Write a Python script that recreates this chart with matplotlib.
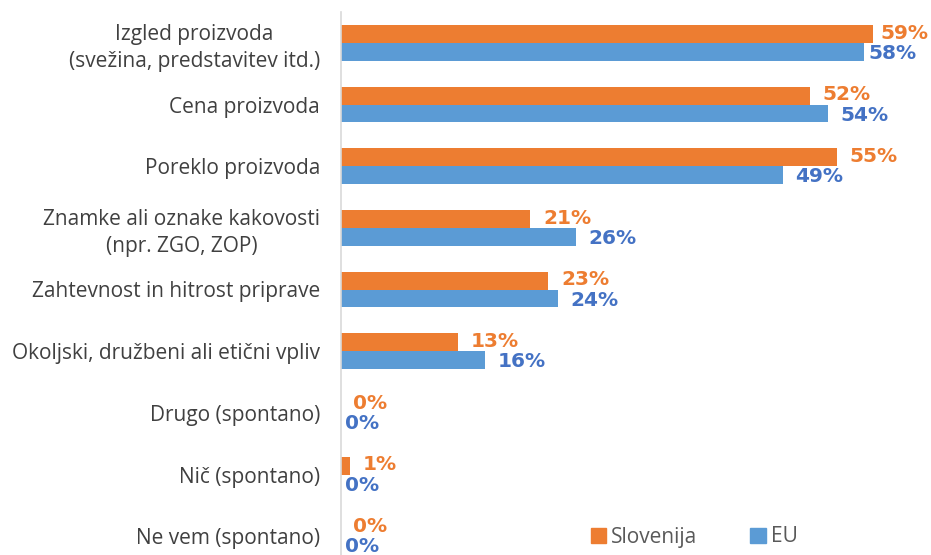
import matplotlib
matplotlib.use("Agg")
import matplotlib.pyplot as plt
import numpy as np
from matplotlib.patches import Patch

categories = [
    "Izgled proizvoda\n(svežina, predstavitev itd.)",
    "Cena proizvoda",
    "Poreklo proizvoda",
    "Znamke ali oznake kakovosti\n(npr. ZGO, ZOP)",
    "Zahtevnost in hitrost priprave",
    "Okoljski, družbeni ali etični vpliv",
    "Drugo (spontano)",
    "Nič (spontano)",
    "Ne vem (spontano)",
]
slovenija = [59, 52, 55, 21, 23, 13, 0, 1, 0]
eu = [58, 54, 49, 26, 24, 16, 0, 0, 0]
series_names = ["Slovenija", "EU"]

ORANGE = "#ED7D31"
BLUE = "#5B9BD5"
ORANGE_TXT = "#ED7D31"
BLUE_TXT = "#4472C4"

plt.rcParams['font.family'] = ['Open Sans', 'DejaVu Sans']

fig = plt.figure(figsize=(9.31, 5.55), dpi=100)
ax = fig.add_axes([341/931, -12/555, (931-341)/931, 555/555])

n = len(categories)
y = np.arange(n)
h = 0.29
ax.barh(y - h/2, slovenija, height=h, color=ORANGE, label=series_names[0])
ax.barh(y + h/2, eu, height=h, color=BLUE, label=series_names[1])

xmax = 65.4
for yi, v in zip(y, slovenija):
    dx = 9 if v < 57 else 5
    ax.annotate(f"{v}%", (v, yi - h/2), xytext=(dx, 0.5), textcoords="offset points",
                ha="left", va="center", color=ORANGE_TXT, fontsize=14.5,
                fontweight="bold", family="DejaVu Sans")
for yi, v in zip(y, eu):
    dx = 9 if 0 < v < 57 else 3
    ax.annotate(f"{v}%", (v, yi + h/2), xytext=(dx, -1.2), textcoords="offset points",
                ha="left", va="center", color=BLUE_TXT, fontsize=14.5,
                fontweight="bold", family="DejaVu Sans")

ax.set_ylim(n - 0.5, -0.5)
ax.set_xlim(0, xmax)
ax.set_yticks(y)
ax.set_yticklabels(categories, fontsize=15, color="#404040", ha="right",
                   multialignment="center", linespacing=1.35)
ax.tick_params(axis="y", length=0, pad=15)
ax.set_xticks([])
for s in ["top", "right", "bottom"]:
    ax.spines[s].set_visible(False)
ax.spines["left"].set_color("#D9D9D9")
ax.spines["left"].set_linewidth(1.2)

handles = [Patch(color=ORANGE), Patch(color=BLUE)]
fig.legend(handles, series_names, loc="center left", bbox_to_anchor=(572/931, 1 - 537/555),
           ncol=2, frameon=False, fontsize=15, labelcolor="#595959",
           handlelength=0.75, handleheight=0.75, handletextpad=0.22, columnspacing=2.55)

fig.savefig("out.png", dpi=100)
